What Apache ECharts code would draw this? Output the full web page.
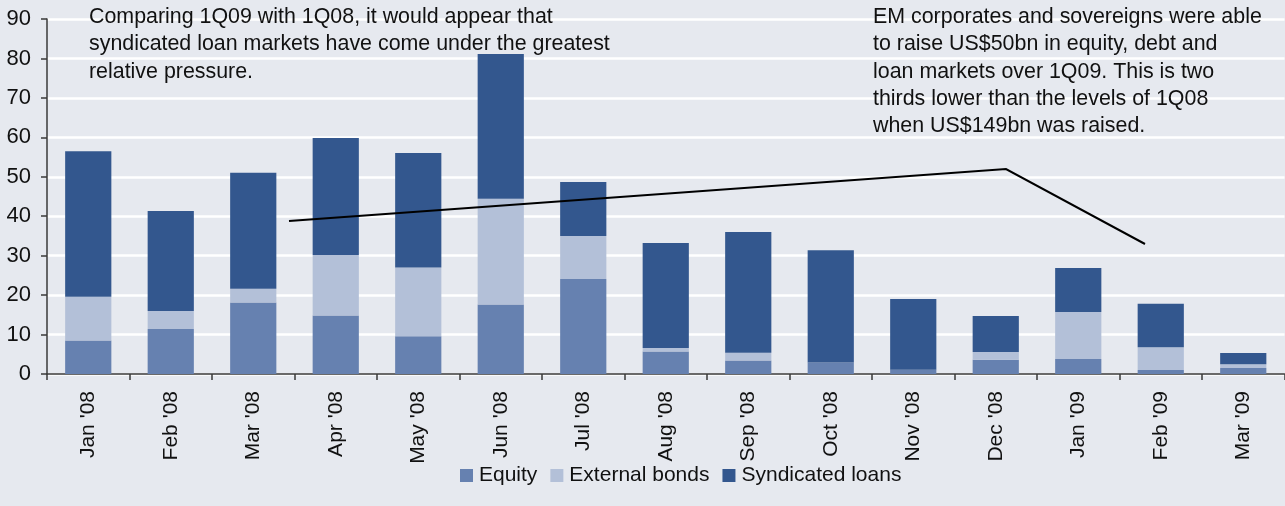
<!DOCTYPE html>
<html>
<head>
<meta charset="utf-8">
<script src="https://cdn.jsdelivr.net/npm/echarts@6/dist/echarts.min.js"></script>
<style>
  html, body { margin: 0; padding: 0; background: #E6E9EF; }
  #chart { width: 1285px; height: 506px; }
</style>
</head>
<body>
<div id="chart"></div>
<script>
// Monthly EM capital raising, US$bn
const months = ["Jan '08", "Feb '08", "Mar '08", "Apr '08", "May '08", "Jun '08", "Jul '08",
  "Aug '08", "Sep '08", "Oct '08", "Nov '08", "Dec '08", "Jan '09", "Feb '09", "Mar '09"];
const equity = [8.5, 11.4, 18.1, 14.8, 9.6, 17.6, 24.1, 5.7, 3.4, 2.9, 1.1, 3.6, 3.8, 1.0, 1.5];
const externalBonds = [11.1, 4.6, 3.5, 15.4, 17.4, 26.8, 10.9, 0.9, 2.0, 0.0, 0.0, 2.0, 11.9, 5.8, 1.0];
const syndicatedLoans = [36.9, 25.3, 29.4, 29.6, 29.0, 36.7, 13.7, 26.6, 30.6, 28.5, 17.9, 9.1, 11.2, 11.0, 2.8];
const yTicks = { min: 0, max: 90, interval: 10 };

const noteLeft = [
  'Comparing 1Q09 with 1Q08, it would appear that',
  'syndicated loan markets have come under the greatest',
  'relative pressure.'
];
const noteRight = [
  'EM corporates and sovereigns were able',
  'to raise US$50bn in equity, debt and',
  'loan markets over 1Q09. This is two',
  'thirds lower than the levels of 1Q08',
  'when US$149bn was raised.'
];

const FONT = '"Liberation Sans", Arial, Helvetica, sans-serif';
const colors = { equity: '#6681B0', bonds: '#B3C0D8', loans: '#33578E' };

const chart = echarts.init(document.getElementById('chart'), null, { renderer: 'canvas' });

function barSeries(name, data, color) {
  return {
    name: name,
    type: 'bar',
    stack: 'total',
    data: data,
    barWidth: '56%',
    itemStyle: { color: color },
    emphasis: { disabled: true }
  };
}

chart.setOption({
  backgroundColor: '#E6E9EF',
  animation: false,
  textStyle: { fontFamily: FONT },
  grid: { left: 47, right: 0.5, top: 19, bottom: 132, containLabel: false },
  xAxis: {
    type: 'category',
    data: months,
    boundaryGap: true,
    axisLine: { show: true, lineStyle: { color: '#3a3a3a', width: 1.5 } },
    axisTick: { show: true, alignWithLabel: false, length: 6, lineStyle: { color: '#3a3a3a', width: 1.5 } },
    axisLabel: { rotate: 90, margin: 17, fontSize: 21, color: '#111', fontFamily: FONT, interval: 0 },
    splitLine: { show: false }
  },
  yAxis: {
    type: 'value',
    min: yTicks.min,
    max: yTicks.max,
    interval: yTicks.interval,
    axisLine: { show: true, lineStyle: { color: '#3a3a3a', width: 1.5 } },
    axisTick: { show: true, length: 6, lineStyle: { color: '#3a3a3a', width: 1.5 } },
    axisLabel: { margin: 16, fontSize: 22, color: '#111', fontFamily: FONT },
    splitLine: { show: true, lineStyle: { color: '#FFFFFF', width: 2.5 } }
  },
  legend: {
    data: ['Equity', 'External bonds', 'Syndicated loans'],
    left: 460,
    top: 465,
    padding: 0,
    itemWidth: 13,
    itemHeight: 13,
    itemGap: 13,
    icon: 'rect',
    textStyle: { fontSize: 21, color: '#111', fontFamily: FONT, lineHeight: 21, padding: [0, 0, 0, 1] }
  },
  series: [
    barSeries('Equity', equity, colors.equity),
    barSeries('External bonds', externalBonds, colors.bonds),
    barSeries('Syndicated loans', syndicatedLoans, colors.loans)
  ],
  graphic: [
    {
      type: 'text',
      left: 89,
      top: 3.5,
      z: 10,
      style: { text: noteLeft.join('\n'), font: '21.4px ' + FONT, fill: '#111', lineHeight: 27.3 }
    },
    {
      type: 'text',
      left: 873,
      top: 3.5,
      z: 10,
      style: { text: noteRight.join('\n'), font: '21.4px ' + FONT, fill: '#111', lineHeight: 27.3 }
    },
    {
      type: 'polyline',
      z: 10,
      shape: { points: [[289, 221], [1006, 169], [1145, 244]] },
      style: { stroke: '#000', lineWidth: 2, fill: null }
    }
  ]
});
</script>
</body>
</html>
